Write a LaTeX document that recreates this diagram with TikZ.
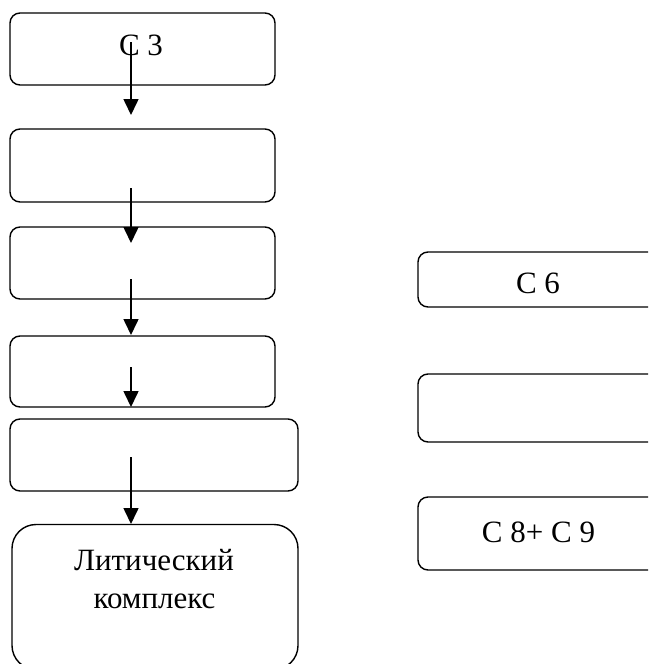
\documentclass[tikz,border=0pt]{standalone}
\usepackage{fontspec}
\setmainfont{Liberation Serif}
\usetikzlibrary{arrows.meta}
\tikzset{
  box/.style={draw, line width=1.4pt, rounded corners=10pt, rectangle, inner sep=0pt, outer sep=0pt},
  bigbox/.style={box, rounded corners=24pt},
  lbl/.style={anchor=base, inner sep=0pt, font=\fontsize{31}{37}\selectfont},
  arr/.style={line width=1.6pt, -{Triangle[width=15pt,length=16pt]}}
}
\begin{document}
\begin{tikzpicture}[x=1pt,y=-1pt]
\useasboundingbox (0,0) rectangle (648,664);
\clip (0,0) rectangle (648,664);
% left column
\node[box, minimum width=265pt, minimum height=72pt] (b1) at (142.5,49) {};
\node[box, minimum width=265pt, minimum height=73pt] (b2) at (142.5,165.5) {};
\node[box, minimum width=265pt, minimum height=72pt] (b3) at (142.5,263) {};
\node[box, minimum width=265pt, minimum height=71pt] (b4) at (142.5,371.5) {};
\node[box, minimum width=288pt, minimum height=72pt] (b5) at (154,455) {};
\node[bigbox, minimum width=286pt, minimum height=145pt] (b6) at (155,597) {};
% right column
\node[box, minimum width=282pt, minimum height=55pt] (r1) at (559,279.5) {};
\node[box, minimum width=282pt, minimum height=68pt] (r2) at (559,408) {};
\node[box, minimum width=282pt, minimum height=73pt] (r3) at (559,533.5) {};
% labels
\node[lbl] (t1) at (141,55) {C 3};
\node[lbl] (t6a) at (154,570) {Литический};
\node[lbl] (t6b) at (154.5,608) {комплекс};
\node[lbl] (tr1) at (538,293) {C 6};
\node[lbl] (tr3) at (538.5,542) {C 8+ C 9};
% arrow end points
\coordinate (a1s) at (131,42);  \coordinate (a1e) at (131,115);
\coordinate (a2s) at (131,188); \coordinate (a2e) at (131,243);
\coordinate (a3s) at (131,279); \coordinate (a3e) at (131,335);
\coordinate (a4s) at (131,367); \coordinate (a4e) at (131,407);
\coordinate (a5s) at (131,457); \coordinate (a5e) at (131,524);
\draw[arr] (a1s) -- (a1e);
\draw[arr] (a2s) -- (a2e);
\draw[arr] (a3s) -- (a3e);
\draw[arr] (a4s) -- (a4e);
\draw[arr] (a5s) -- (a5e);
\end{tikzpicture}
\end{document}
